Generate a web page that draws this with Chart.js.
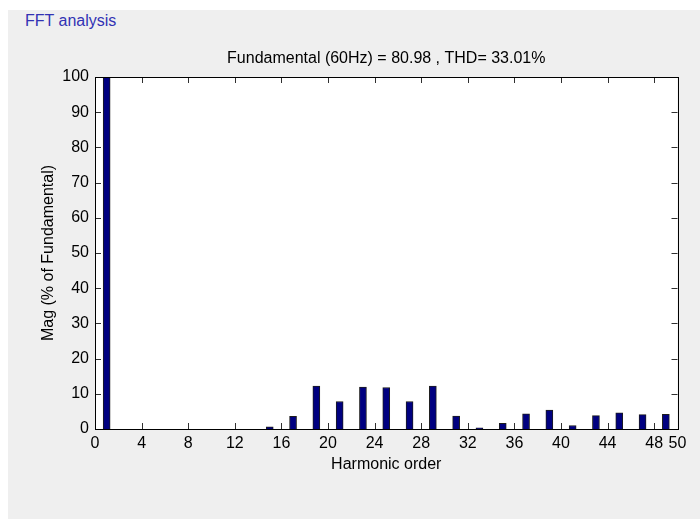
<!DOCTYPE html>
<html>
<head>
<meta charset="utf-8">
<script src="https://cdn.jsdelivr.net/npm/chart.js@4.4.1/dist/chart.umd.min.js"></script>
<style>
    html, body { margin: 0; padding: 0; background: #ffffff; }
    #wrap { position: relative; width: 700px; height: 519px; overflow: hidden; }
    #panel { position: absolute; left: 8px; top: 10px; right: 0; bottom: 0; background: #efefef; }
    #caption { position: absolute; left: 25px; top: 12px; font: 16px "Liberation Sans", Arial, sans-serif; line-height: 18px; color: #3232b4; }
    #fft { position: absolute; left: 0; top: 0; }
</style>
</head>
<body>
<div id="wrap">
    <div id="panel"></div>
    <div id="caption">FFT analysis</div>
    <canvas id="fft" width="700" height="519"></canvas>
</div>
<script>
// harmonic spectrum, magnitude in % of the fundamental
const harmonicOrders = [];
for (let h = 0; h <= 50; h++) harmonicOrders.push(h);
const magnitudes = [
    0, 100, 0, 0, 0, 0, 0, 0, 0, 0,
    0, 0, 0, 0, 0, 0.6, 0, 3.6, 0, 12.2,
    0, 7.8, 0, 11.9, 0, 11.8, 0, 7.8, 0, 12.2,
    0, 3.7, 0, 0.3, 0, 1.6, 0, 4.3, 0, 5.4,
    0, 1.0, 0, 3.8, 0, 4.6, 0, 4.1, 0, 4.2,
    0
];
const xTickValues = [0, 4, 8, 12, 16, 20, 24, 28, 32, 36, 40, 44, 48, 50];
const yTickValues = [0, 10, 20, 30, 40, 50, 60, 70, 80, 90, 100];
const fundamentalHz = 60;
const fundamentalMag = 80.98;
const thdPercent = 33.01;

Chart.defaults.font.family = '"Liberation Sans", Arial, sans-serif';
Chart.defaults.font.size = 16;
Chart.defaults.color = '#000';

// box round the axes, with ticks pointing inward on all four sides
const axesBox = {
    id: 'axesBox',
    afterDatasetsDraw(chart) {
        const { ctx, chartArea: a, scales: { x, y } } = chart;
        const len = 6;
        ctx.save();
        ctx.strokeStyle = '#303030';
        ctx.lineWidth = 1;
        ctx.beginPath();
        x.ticks.forEach(t => {
            const px = Math.round(x.getPixelForValue(t.value)) + 0.5;
            ctx.moveTo(px, a.bottom); ctx.lineTo(px, a.bottom - len);
            ctx.moveTo(px, a.top); ctx.lineTo(px, a.top + len);
        });
        y.ticks.forEach(t => {
            const py = Math.round(y.getPixelForValue(t.value)) + 0.5;
            ctx.moveTo(a.left, py); ctx.lineTo(a.left + len, py);
            ctx.moveTo(a.right, py); ctx.lineTo(a.right - len, py);
        });
        ctx.stroke();
        ctx.strokeStyle = '#000';
        ctx.strokeRect(Math.round(a.left) + 0.5, Math.round(a.top) + 0.5,
            Math.round(a.right - a.left), Math.round(a.bottom - a.top));
        ctx.restore();
    }
};

// white plot background under the bars
const plotBg = {
    id: 'plotBg',
    beforeDraw(chart) {
        const { ctx, chartArea: a } = chart;
        ctx.save();
        ctx.fillStyle = '#fff';
        ctx.fillRect(a.left, a.top, a.right - a.left, a.bottom - a.top);
        ctx.restore();
    }
};

new Chart(document.getElementById('fft'), {
    type: 'bar',
    data: {
        datasets: [{
            data: harmonicOrders.map((h, i) => ({ x: h, y: magnitudes[i] })),
            backgroundColor: '#000080',
            borderColor: '#1c1c1c',
            borderWidth: 1,
            borderSkipped: 'start',
            barThickness: 7
        }]
    },
    options: {
        responsive: false,
        animation: false,
        layout: { padding: { left: 0, right: 22.5, top: 0, bottom: 0 } },
        plugins: {
            legend: { display: false },
            tooltip: { enabled: false },
            title: {
                display: true,
                fullSize: false,
                text: `Fundamental (${fundamentalHz}Hz) = ${fundamentalMag.toFixed(2)} , THD= ${thdPercent.toFixed(2)}%`,
                color: '#000',
                font: { size: 16, weight: 'normal', lineHeight: 1.2 },
                padding: { top: 48.5, bottom: 9.3 }
            }
        },
        scales: {
            x: {
                type: 'linear',
                min: 0,
                max: 50,
                offset: false,
                grid: { display: false, drawTicks: false },
                border: { display: false },
                afterBuildTicks: s => { s.ticks = xTickValues.map(v => ({ value: v })); },
                afterFit: s => { s.height = 90; },
                ticks: { autoSkip: false, maxRotation: 0, padding: 5, color: '#000' },
                title: {
                    display: true,
                    text: 'Harmonic order',
                    color: '#000',
                    font: { size: 16, lineHeight: 1.2 },
                    padding: { top: 0, bottom: 44.5 }
                }
            },
            y: {
                min: 0,
                max: 100,
                grid: { display: false, drawTicks: false },
                border: { display: false },
                afterBuildTicks: s => { s.ticks = yTickValues.map(v => ({ value: v })); },
                afterFit: s => { s.width = 95; },
                ticks: { padding: 6, color: '#000' },
                title: {
                    display: true,
                    text: 'Mag (% of Fundamental)',
                    color: '#000',
                    font: { size: 16, lineHeight: 1.2 },
                    padding: { top: 39.4, bottom: 0 }
                }
            }
        }
    },
    plugins: [plotBg, axesBox]
});
</script>
</body>
</html>
